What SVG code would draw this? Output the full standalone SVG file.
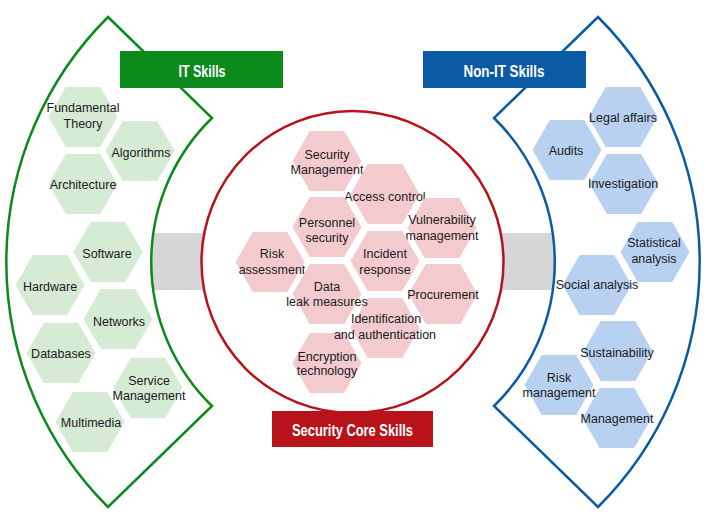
<svg xmlns="http://www.w3.org/2000/svg" xmlns:xlink="http://www.w3.org/1999/xlink" width="708" height="522" viewBox="0 0 708 522">
<style>
.t{font-family:"Liberation Sans",Arial,sans-serif;font-size:12.5px;fill:#1a1a22;text-anchor:middle}
.h{font-family:"Liberation Sans",Arial,sans-serif;font-size:16px;font-weight:bold;fill:#ffffff;text-anchor:middle}
.g{fill:#d5ebd3}
.b{fill:#b9d1f0}
.p{fill:#f3cbcf}
</style>
<defs>
<polygon id="hex" points="-34.5,0 -17.25,-30 17.25,-30 34.5,0 17.25,30 -17.25,30"/>
</defs>
<rect width="708" height="522" fill="#ffffff"/>
<g id="connectors">
<rect x="140" y="233" width="428" height="57" fill="#d6d6d6"/>
</g>
<g id="it-area">
<path d="M108,17 L212,118 A201,201 0 0 0 212,406 L108,507 A346,346 0 0 1 108,17 Z" fill="#ffffff" stroke="#0c8a1c" stroke-width="2.5"/>
</g>
<g id="nonit-area">
<path d="M598,17 L494,118 A201,201 0 0 1 494,406 L598,507 A346,346 0 0 0 598,17 Z" fill="#ffffff" stroke="#0b5aa6" stroke-width="2.5"/>
</g>
<g id="core-area">
<circle cx="352.5" cy="262" r="151" fill="#ffffff" stroke="#b8121b" stroke-width="2.5"/>
</g>

<g id="fundamental-theory"><use xlink:href="#hex" class="g" x="83" y="117"/><text class="t" x="83" y="112">Fundamental</text><text class="t" x="83" y="128">Theory</text></g>
<g id="algorithms"><use xlink:href="#hex" class="g" x="140" y="151"/><text class="t" x="141" y="157">Algorithms</text></g>
<g id="architecture"><use xlink:href="#hex" class="g" x="83" y="184"/><text class="t" x="83" y="189">Architecture</text></g>
<g id="software"><use xlink:href="#hex" class="g" x="108" y="252"/><text class="t" x="107" y="258">Software</text></g>
<g id="hardware"><use xlink:href="#hex" class="g" x="50" y="285"/><text class="t" x="50" y="291">Hardware</text></g>
<g id="networks"><use xlink:href="#hex" class="g" x="118" y="319"/><text class="t" x="119" y="326">Networks</text></g>
<g id="databases"><use xlink:href="#hex" class="g" x="61" y="353"/><text class="t" x="61" y="358">Databases</text></g>
<g id="multimedia"><use xlink:href="#hex" class="g" x="90" y="422"/><text class="t" x="91" y="427">Multimedia</text></g>
<g id="service-management"><use xlink:href="#hex" class="g" x="148" y="388"/><text class="t" x="149" y="385">Service</text><text class="t" x="149" y="400">Management</text></g>

<g id="legal-affairs"><use xlink:href="#hex" class="b" x="623" y="117"/><text class="t" x="623" y="122">Legal affairs</text></g>
<g id="audits"><use xlink:href="#hex" class="b" x="567" y="150"/><text class="t" x="566" y="155">Audits</text></g>
<g id="investigation"><use xlink:href="#hex" class="b" x="624" y="184"/><text class="t" x="623" y="188">Investigation</text></g>
<g id="statistical-analysis"><use xlink:href="#hex" class="b" x="655" y="252"/><text class="t" x="654" y="247">Statistical</text><text class="t" x="654" y="263">analysis</text></g>
<g id="social-analysis"><use xlink:href="#hex" class="b" x="597" y="285"/><text class="t" x="597" y="289">Social analysis</text></g>
<g id="sustainability"><use xlink:href="#hex" class="b" x="618" y="351"/><text class="t" x="617" y="357">Sustainability</text></g>
<g id="management"><use xlink:href="#hex" class="b" x="617" y="418"/><text class="t" x="617" y="423">Management</text></g>
<g id="risk-management"><use xlink:href="#hex" class="b" x="559" y="385"/><text class="t" x="559" y="382">Risk</text><text class="t" x="559" y="397">management</text></g>

<g id="security-management"><use xlink:href="#hex" class="p" x="327" y="161"/><text class="t" x="327" y="159">Security</text><text class="t" x="327" y="174">Management</text></g>
<g id="access-control"><use xlink:href="#hex" class="p" x="385" y="194"/><text class="t" x="385" y="201">Access control</text></g>
<g id="personnel-security"><use xlink:href="#hex" class="p" x="327" y="227"/><text class="t" x="327" y="227">Personnel</text><text class="t" x="327" y="242">security</text></g>
<g id="vulnerability-management"><use xlink:href="#hex" class="p" x="442" y="228"/><text class="t" x="442" y="224">Vulnerability</text><text class="t" x="442" y="240">management</text></g>
<g id="risk-assessment"><use xlink:href="#hex" class="p" x="270" y="262"/><text class="t" x="272" y="258">Risk</text><text class="t" x="272" y="274">assessment</text></g>
<g id="incident-response"><use xlink:href="#hex" class="p" x="385" y="261"/><text class="t" x="385" y="258">Incident</text><text class="t" x="385" y="274">response</text></g>
<g id="procurement"><use xlink:href="#hex" class="p" x="443" y="294"/><text class="t" x="443" y="299">Procurement</text></g>
<g id="encryption-technology"><use xlink:href="#hex" class="p" x="327" y="363"/><text class="t" x="327" y="361">Encryption</text><text class="t" x="327" y="375">technology</text></g>
<g id="identification-authentication"><use xlink:href="#hex" class="p" x="385" y="328"/><text class="t" x="386" y="323">Identification</text><text class="t" x="385" y="339">and authentication</text></g>
<g id="data-leak-measures"><use xlink:href="#hex" class="p" x="327" y="294"/><text class="t" x="327" y="291">Data</text><text class="t" x="327" y="306">leak measures</text></g>

<g id="it-skills-label"><rect x="120" y="51" width="163" height="37" fill="#0c8a1c"/><text class="h" x="202" y="77" textLength="47" lengthAdjust="spacingAndGlyphs">IT Skills</text></g>
<g id="nonit-skills-label"><rect x="423" y="51" width="163" height="37" fill="#0b5aa6"/><text class="h" x="504" y="77" textLength="81" lengthAdjust="spacingAndGlyphs">Non-IT Skills</text></g>
<g id="core-skills-label"><rect x="272" y="411" width="161" height="36" fill="#b8121b"/><text class="h" x="352.5" y="436" textLength="121" lengthAdjust="spacingAndGlyphs">Security Core Skills</text></g>
</svg>
